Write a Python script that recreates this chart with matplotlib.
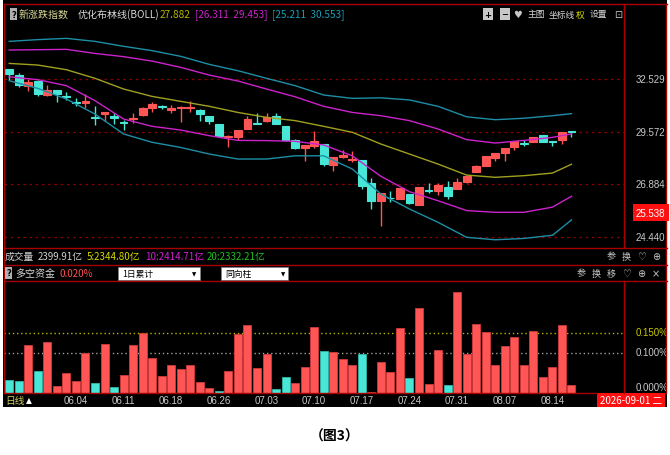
import matplotlib
matplotlib.use('Agg')
import matplotlib.pyplot as plt
from matplotlib.patches import Rectangle
from matplotlib.lines import Line2D
from matplotlib.transforms import blended_transform_factory as blend

plt.rcParams['font.family'] = ['Noto Sans CJK SC', 'DejaVu Sans']

W, H = 670, 456

# ---------------- data ----------------
opens = [33.12, 32.78, 32.10, 32.43, 31.60, 31.89, 31.56, 31.20, 31.17, 30.38,
         30.55, 30.40, 30.11, 30.27, 30.47, 30.87, 30.97, 30.78, 30.85, 30.85,
         30.77, 30.43, 29.97, 29.29, 29.30, 29.70, 30.05, 30.13, 30.40, 29.87,
         29.15, 28.71, 28.83, 28.92, 27.86, 28.25, 28.09, 28.08, 26.94, 26.10,
         26.25, 26.18, 26.42, 25.91, 26.60, 26.56, 26.74, 26.66, 26.98, 27.48,
         27.81, 28.20, 28.45, 28.76, 28.99, 29.01, 29.40, 29.10, 29.12, 29.60]
highs = [33.12, 32.88, 32.53, 32.49, 32.17, 31.89, 31.76, 31.41, 31.66, 31.00,
         30.63, 30.57, 30.20, 30.57, 30.90, 31.19, 31.04, 31.04, 30.96, 31.27,
         30.80, 30.45, 29.98, 29.41, 29.67, 30.43, 30.59, 30.57, 30.57, 29.88,
         29.16, 28.88, 29.63, 28.93, 28.27, 28.62, 28.54, 28.09, 27.20, 26.46,
         26.58, 26.70, 26.43, 26.75, 26.95, 26.95, 27.03, 27.21, 27.32, 27.82,
         28.31, 28.46, 28.70, 29.09, 29.15, 29.31, 29.41, 29.10, 29.55, 29.63]
lows = [32.47, 32.06, 31.81, 31.52, 31.56, 31.22, 31.33, 31.00, 30.85, 29.95,
        30.17, 29.99, 29.68, 30.04, 30.45, 30.63, 30.81, 30.57, 30.08, 30.63,
        30.17, 29.99, 29.30, 28.78, 29.15, 29.69, 29.97, 30.12, 29.97, 29.07,
        28.66, 28.06, 28.71, 27.81, 27.53, 28.19, 28.01, 26.66, 25.71, 24.95,
        26.05, 26.17, 25.97, 25.90, 26.47, 26.39, 26.18, 26.65, 26.97, 27.47,
        27.80, 28.06, 28.03, 28.62, 28.83, 29.00, 29.04, 28.80, 28.93, 29.30]
closes = [32.82, 32.19, 32.37, 31.66, 31.89, 31.66, 31.50, 31.14, 31.26, 30.30,
          30.63, 30.30, 30.04, 30.32, 30.87, 31.10, 30.92, 30.84, 30.94, 30.90,
          30.53, 30.13, 29.32, 29.34, 29.66, 30.26, 30.00, 30.35, 29.99, 29.15,
          28.71, 28.87, 29.08, 27.89, 28.26, 28.35, 28.14, 26.80, 26.10, 26.45,
          26.21, 26.69, 25.98, 26.74, 26.56, 26.85, 26.34, 26.98, 27.31, 27.81,
          28.30, 28.45, 28.69, 29.08, 28.94, 29.30, 29.05, 29.05, 29.54, 29.54]

band_idx = [0, 3, 6, 9, 12, 15, 18, 21, 24, 27, 30, 33, 36, 39, 42, 45, 48, 51, 54, 57, 59]
boll_up2 = [34.82, 34.93, 35.01, 34.82, 34.51, 34.24, 33.89, 33.40, 33.02, 32.57, 32.14,
            31.60, 31.41, 31.44, 31.32, 30.96, 30.38, 30.22, 30.30, 30.44, 30.553]
boll_up1 = [34.28, 34.30, 34.32, 34.07, 33.87, 33.60, 33.22, 32.76, 32.41, 31.945, 31.50,
            30.96, 30.62, 30.44, 30.17, 29.715, 29.15, 28.97, 29.11, 29.27, 29.453]
boll_mid = [33.46, 33.36, 33.08, 32.57, 31.945, 31.52, 31.24, 30.96, 30.62, 30.35, 30.17,
            29.86, 29.54, 28.92, 28.40, 27.89, 27.34, 27.23, 27.31, 27.44, 27.882]
boll_dn1 = [32.66, 32.49, 32.14, 31.28, 30.258, 29.86, 29.66, 29.36, 29.11, 29.10, 29.06,
            28.87, 28.31, 27.28, 26.53, 26.10, 25.64, 25.56, 25.56, 25.80, 26.311]
boll_dn2 = [32.43, 31.98, 31.372, 30.53, 29.45, 29.01, 28.74, 28.40, 28.146, 28.146, 28.31,
            28.31, 27.642, 26.42, 25.713, 25.10, 24.43, 24.32, 24.38, 24.52, 25.211]

flow_vals = [0.0325, 0.029, 0.12, 0.055, 0.127, 0.016, 0.05, 0.029, 0.10, 0.024,
             0.1225, 0.014, 0.043, 0.12, 0.148, 0.0875, 0.042, 0.07, 0.058, 0.068,
             0.026, 0.012, 0.004, 0.055, 0.147, 0.17, 0.062, 0.096, 0.009, 0.04,
             0.024, 0.063, 0.165, 0.104, 0.1025, 0.083, 0.068, 0.0975, 0.002, 0.077,
             0.051, 0.162, 0.0375, 0.2125, 0.021, 0.106, 0.019, 0.251, 0.096, 0.172,
             0.152, 0.07, 0.117, 0.138, 0.07, 0.155, 0.04, 0.063, 0.17, 0.02]
flow_up = [0, 0, 1, 0, 1, 1, 1, 1, 1, 0,
           1, 0, 1, 1, 1, 1, 1, 1, 1, 1,
           1, 1, 0, 1, 1, 1, 1, 1, 0, 0,
           1, 1, 1, 0, 1, 1, 1, 0, 1, 1,
           1, 1, 0, 1, 1, 1, 0, 1, 1, 1,
           1, 1, 1, 1, 1, 1, 1, 1, 1, 1]

date_idx = [7, 12, 17, 22, 27, 32, 37, 42, 47, 52, 57]
date_labels = ['06.04', '06.11', '06.18', '06.26', '07.03', '07.10', '07.17',
               '07.24', '07.31', '08.07', '08.14']
price_ticks = [32.529, 29.572, 26.884, 24.440]
price_tick_labels = ['32.529', '29.572', '26.884', '24.440']
marker_price = 25.538
flow_ticks = [0.150, 0.100, 0.000]
flow_tick_labels = ['0.150%', '0.100%', '0.000%']

# ---------------- styles ----------------
RED = '#ff5555'
CYAN = '#48e6d6'
BORDER = '#a80000'
GRIDRED = '#8a0000'
TEAL = '#1d8ea6'
MAG = '#cc22cc'
OLIVE = '#a0a020'
GRAY = '#c8c8c8'
NUMFONT = ['Liberation Sans', 'DejaVu Sans']

fig = plt.figure(figsize=(W / 100, H / 100), dpi=100)
fig.patch.set_facecolor('white')


def fx(x):
    return x / W


def fy(y):
    return 1 - y / H


def add_ax(x0, y0, x1, y1):
    a = fig.add_axes([fx(x0), fy(y1), (x1 - x0) / W, (y1 - y0) / H])
    a.set_xticks([])
    a.set_yticks([])
    for s in a.spines.values():
        s.set_visible(False)
    return a


def hline(y, x0, x1, c=BORDER, lw=1.0):
    fig.add_artist(Line2D([fx(x0), fx(x1)], [fy(y), fy(y)], color=c, lw=lw))


def vline(x, y0, y1, c=BORDER, lw=1.0):
    fig.add_artist(Line2D([fx(x), fx(x)], [fy(y0), fy(y1)], color=c, lw=lw))


def txt(x, y, s, color=GRAY, size=7, ha='left', **kw):
    fig.text(fx(x), fy(y), s, color=color, fontsize=size, ha=ha, va='center', **kw)


bg = add_ax(3, 0, 667, 408)
bg.set_facecolor('black')
bg.set_zorder(-5)

XL = (-0.546, 64.51)

# ---------------- main K-line panel ----------------
ax = add_ax(4, 5, 624, 249)
ax.set_facecolor('black')
ax.set_yscale('log')
ax.set_ylim(23.962, 37.255)
ax.set_xlim(*XL)
ax.set_yticks([])
ax.set_yticks([], minor=True)

for p in price_ticks:
    ax.axhline(p, color=GRIDRED, lw=0.9, ls=(0, (2, 3)), zorder=1)

bw = 0.82
for i in range(len(opens)):
    o, h, l, c = opens[i], highs[i], lows[i], closes[i]
    col = RED if c >= o else CYAN
    ax.vlines(i, l, h, color=col, lw=1.0, zorder=2)
    lo, hi = min(o, c), max(o, c)
    ax.add_patch(Rectangle((i - bw / 2, lo), bw, hi - lo, facecolor=col,
                           edgecolor=col, lw=0.8, zorder=3))

ax.plot(band_idx, boll_up2, color=TEAL, lw=1.0, zorder=4)
ax.plot(band_idx, boll_dn2, color=TEAL, lw=1.0, zorder=4)
ax.plot(band_idx, boll_up1, color=MAG, lw=1.0, zorder=4)
ax.plot(band_idx, boll_dn1, color=MAG, lw=1.0, zorder=4)
ax.plot(band_idx, boll_mid, color=OLIVE, lw=1.0, zorder=4)

tr_main = blend(fig.transFigure, ax.transData)
for p, lab in zip(price_ticks, price_tick_labels):
    fig.text(fx(636), p, lab, color=GRAY, fontsize=7, va='center', ha='left',
             transform=tr_main, family=NUMFONT)
fig.text(fx(636), marker_price, '25.538', color='white', fontsize=7, va='center',
         ha='left', transform=tr_main, family=NUMFONT,
         bbox=dict(boxstyle='square,pad=0.35', fc='#ff1010', ec='none'))

# ---------------- flow panel ----------------
ax2 = add_ax(4, 282, 624, 393.5)
ax2.set_facecolor('black')
ax2.set_xlim(*XL)
ytop = (393.5 - 282) * 0.0025
ax2.set_ylim(0, ytop)
cols = [RED if u else CYAN for u in flow_up]
edges = ['#d03a3a' if u else '#2fb8aa' for u in flow_up]
ax2.bar(range(len(flow_vals)), flow_vals, width=0.84, color=cols, edgecolor=edges,
        lw=0.6, zorder=2)
ax2.axhline(0.150, color='#b8b800', lw=1.0, ls=(0, (1, 2)), zorder=1)
ax2.axhline(0.100, color='#a0a0a0', lw=1.0, ls=(0, (1, 2)), zorder=1)

ax2r = add_ax(624, 282, 667, 393.5)
ax2r.set_facecolor('none')
ax2r.set_xlim(0, 1)
ax2r.set_ylim(0, ytop)
for v, lab, cc in zip(flow_ticks, flow_tick_labels, ['#c8c800', GRAY, GRAY]):
    va = 'bottom' if v == 0 else 'center'
    ax2r.text(0.27, v, lab, color=cc, fontsize=7, va=va, ha='left',
              clip_on=True, family=NUMFONT)

# ---------------- x axis strip ----------------
tr_x = blend(ax2.transData, fig.transFigure)
for i, lab in zip(date_idx, date_labels):
    fig.text(i, fy(401), lab, color=GRAY, fontsize=7, ha='center', va='center',
             transform=tr_x, family=NUMFONT)
txt(5, 401, '日线', color='#d0d060', size=7)
txt(26, 401, '▲', color='white', size=5.5, family=['DejaVu Sans'])
fig.add_artist(Rectangle((fx(597), fy(408)), 68 / W, 14 / H, transform=fig.transFigure,
                         fc='#ff1010', ec='none'))
txt(600, 401, '2026-09-01 二', color='white', size=7)

# ---------------- borders ----------------
hline(5, 4, 667)
hline(249, 4, 667)
hline(266, 4, 667)
hline(282, 4, 667)
hline(393.5, 4, 597)
vline(4, 5, 393.5)
vline(624, 5, 249)
vline(624, 282, 393.5)
vline(666, 5, 394)

# ---------------- header texts ----------------
txt(13.5, 15, '?', color='black', size=6, ha='center', family=['DejaVu Sans'],
    bbox=dict(boxstyle='square,pad=0.15', fc='#b0b0b0', ec='none'), weight='bold')
txt(19, 15, '新涨跌指数', color='#dcdc98', size=7.2)
txt(78, 15, '优化布林线(BOLL)', color='#d8d8d8', size=7.2)
txt(160, 15, '27.882', color='#b8b800', size=7.2)
txt(195, 15, '[26.311  29.453]', color='#d020d0', size=7.2)
txt(272, 15, '[25.211  30.553]', color='#18a0b8', size=7.2)

txt(488, 15, '+', color='black', size=6, ha='center', family=['DejaVu Sans'], weight='bold',
    bbox=dict(boxstyle='square,pad=0.15', fc='#c8c8c8', ec='none'))
txt(505, 15, '−', color='black', size=6, ha='center', family=['DejaVu Sans'], weight='bold',
    bbox=dict(boxstyle='square,pad=0.15', fc='#c8c8c8', ec='none'))
txt(518, 15, '♥', color='#c8c8c8', size=7, ha='center', family=['DejaVu Sans'])
txt(528, 15, '主图', color='#d8d8d8', size=6.3)
txt(549, 15, '坐标线', color='#d8d8d8', size=6.3)
txt(576, 15, '权', color='#e0e000', size=6.3)
txt(590, 15, '设置', color='#d8d8d8', size=6.3)
txt(618, 15, '⊡', color='#c8c8c8', size=7, ha='center', family=['DejaVu Sans'])

# volume row
txt(5, 257, '成交量', color='#d0d0d0', size=7)
txt(38, 257, '2399.91亿', color='#d0d0d0', size=7)
txt(87, 257, '5:2344.80亿', color='#d8d800', size=7)
txt(145, 257, '10:2414.71亿', color='#d020d0', size=7)
txt(207, 257, '20:2332.21亿', color='#20c020', size=7)
txt(607, 257, '参', color='#c8c8c8', size=6.5)
txt(622, 257, '换', color='#c8c8c8', size=6.5)
txt(641, 257, '♡', color='#c8c8c8', size=7, ha='center', family=['DejaVu Sans'])
txt(656, 257, '⊕', color='#c8c8c8', size=7, ha='center', family=['DejaVu Sans'])

# flow header row
txt(8.5, 274, '?', color='black', size=6, ha='center', family=['DejaVu Sans'], weight='bold',
    bbox=dict(boxstyle='square,pad=0.15', fc='#b0b0b0', ec='none'))
txt(15, 274, '多空资金', color='#d8d8d8', size=7.2)
txt(60, 274, '0.020%', color='#ff5050', size=7)
fig.add_artist(Rectangle((fx(118), fy(281)), 82 / W, 13 / H, transform=fig.transFigure,
                         fc='white', ec='#808080', lw=0.6))
txt(122, 274.5, '1日累计', color='black', size=6.3)
txt(194, 274.5, '▼', color='black', size=4, ha='center', family=['DejaVu Sans'])
fig.add_artist(Rectangle((fx(221), fy(281)), 67 / W, 13 / H, transform=fig.transFigure,
                         fc='white', ec='#808080', lw=0.6))
txt(225, 274.5, '同向柱', color='black', size=6.3)
txt(283, 274.5, '▼', color='black', size=4, ha='center', family=['DejaVu Sans'])
txt(577, 274, '参', color='#c8c8c8', size=6.5)
txt(592, 274, '换', color='#c8c8c8', size=6.5)
txt(607, 274, '移', color='#c8c8c8', size=6.5)
txt(626, 274, '♡', color='#c8c8c8', size=7, ha='center', family=['DejaVu Sans'])
txt(641, 274, '⊕', color='#c8c8c8', size=7, ha='center', family=['DejaVu Sans'])
txt(656, 274, '×', color='#c8c8c8', size=7, ha='center', family=['DejaVu Sans'])

# caption
txt(335, 437, '（图3）', color='black', size=10, ha='center', weight='bold')

fig.savefig('out.png', dpi=100, facecolor='white')
